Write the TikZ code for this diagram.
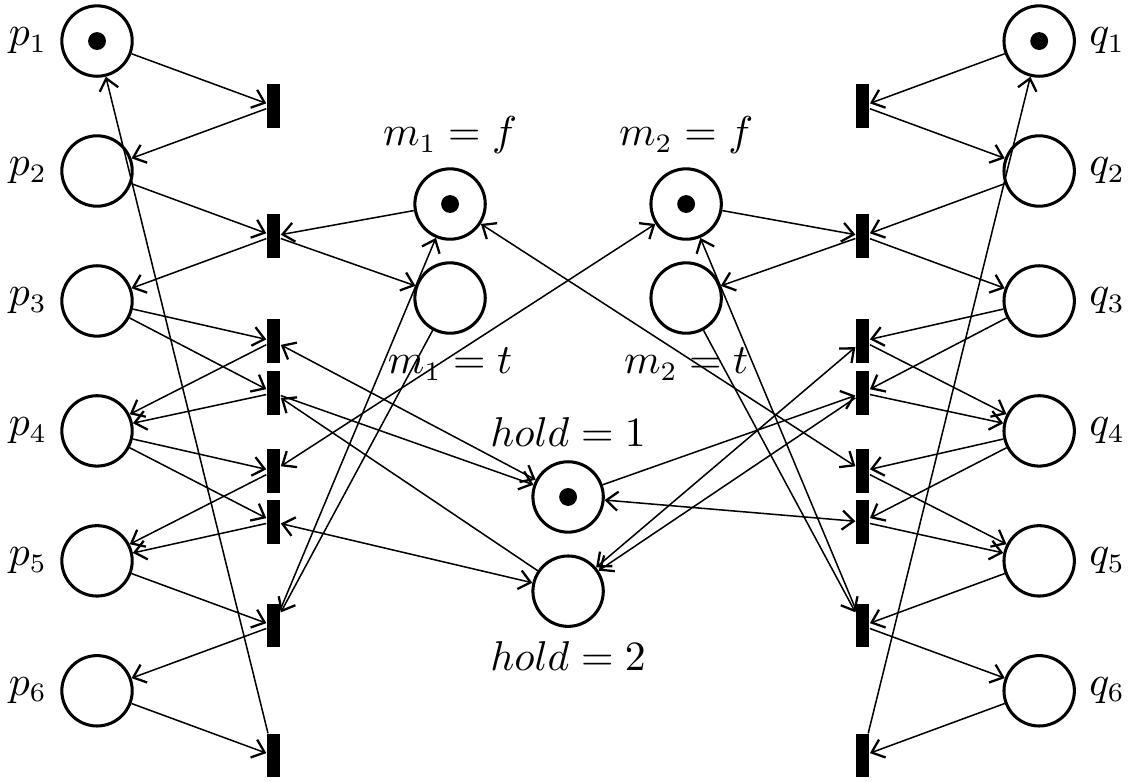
\documentclass[tikz,border=0pt]{standalone}
\usepackage{amsmath}
\usepackage{amssymb}
\usepackage{tikz}
\usetikzlibrary{arrows,arrows.meta,petri}

\begin{document}
\begin{tikzpicture}[->,>={Straight Barb[length=3pt,width=5pt,line width=0.6pt]},auto,node distance=1.2cm,
                    place node/.style={circle,draw,thick,minimum size=6.5mm,inner sep=0pt},
                    trans node/.style={rectangle,fill=black,minimum width=1.2mm,minimum height=4mm,inner sep=0pt},
                    every token/.style={circle,fill=black,inner sep=0pt,minimum size=1.65mm},
                    every label/.style={font=\fontsize{10.5}{12}\selectfont}]

  \useasboundingbox (-0.896,0.379) rectangle (9.557,-6.842);

  % process p
  \node[place node,tokens=1] (p1) [label=left:$p_1$] {};
  \node[place node] (p2) [below of=p1,label=left:$p_2$] {};
  \node[place node] (p3) [below of=p2,label=left:$p_3$] {};
  \node[place node] (p4) [below of=p3,label=left:$p_4$] {};
  \node[place node] (p5) [below of=p4,label=left:$p_5$] {};
  \node[place node] (p6) [below of=p5,label=left:$p_6$] {};

  \node[trans node] (t1) at (1.63,-0.6) {};
  \node[trans node] (t2) at (1.63,-1.8) {};
  \node[trans node] (t3) at (1.63,-2.77) {};
  \node[trans node] (t4) at (1.63,-3.25) {};
  \node[trans node] (t5) at (1.63,-3.97) {};
  \node[trans node] (t6) at (1.63,-4.44) {};
  \node[trans node] (t7) at (1.63,-5.4) {};
  \node[trans node] (t8) at (1.63,-6.6) {};

  % process q
  \node[place node,tokens=1] (q1) at (8.7,0) [label=right:$q_1$] {};
  \node[place node] (q2) [below of=q1,label=right:$q_2$] {};
  \node[place node] (q3) [below of=q2,label=right:$q_3$] {};
  \node[place node] (q4) [below of=q3,label=right:$q_4$] {};
  \node[place node] (q5) [below of=q4,label=right:$q_5$] {};
  \node[place node] (q6) [below of=q5,label=right:$q_6$] {};

  \node[trans node] (s1) at (7.07,-0.6) {};
  \node[trans node] (s2) at (7.07,-1.8) {};
  \node[trans node] (s3) at (7.07,-2.77) {};
  \node[trans node] (s4) at (7.07,-3.25) {};
  \node[trans node] (s5) at (7.07,-3.97) {};
  \node[trans node] (s6) at (7.07,-4.44) {};
  \node[trans node] (s7) at (7.07,-5.4) {};
  \node[trans node] (s8) at (7.07,-6.6) {};

  % shared variables
  \node[place node,tokens=1] (m1f) at (3.26,-1.505) [label={above:$m_1 = f$}] {};
  \node[place node] (m1t) at (3.26,-2.373) [label={below:$m_1 = t$}] {};
  \node[place node,tokens=1] (m2f) at (5.44,-1.505) [label={above:$m_2 = f$}] {};
  \node[place node] (m2t) at (5.44,-2.373) [label={below:$m_2 = t$}] {};
  \node[place node,tokens=1] (hold1) at (4.35,-4.21) [label={above:$hold = 1$}] {};
  \node[place node] (hold2) at (4.35,-5.08) [label={below:$hold = 2$}] {};

  \path
    (p1) edge (t1)
    (t1) edge (p2)
    (p2) edge (t2)
    (m1f) edge (t2)
    (t2) edge (p3)
         edge (m1t)
    (p3) edge (t3)
         edge (t4)
    (t3) edge (p4)
         edge [<->] (hold1)
    (t4) edge (p4)
         edge (hold1)
    (hold2) edge (t4)
    (p4) edge (t5)
         edge (t6)
    (t5) edge (p5)
         edge [<->] (m2f)
    (t6) edge (p5)
         edge [<->] (hold2)
    (p5) edge (t7)
    (m1t) edge (t7)
    (t7) edge (p6)
         edge (m1f)
    (p6) edge (t8)
    (t8) edge (p1);

  \path
    (q1) edge (s1)
    (s1) edge (q2)
    (q2) edge (s2)
    (m2f) edge (s2)
    (s2) edge (q3)
         edge (m2t)
    (q3) edge (s3)
         edge (s4)
    (s3) edge (q4)
         edge [<->] (hold2)
    (s4) edge (q4)
         edge (hold2)
    (hold1) edge (s4)
    (q4) edge (s5)
         edge (s6)
    (s5) edge (q5)
         edge [<->] (m1f)
    (s6) edge (q5)
         edge [<->] (hold1)
    (q5) edge (s7)
    (m2t) edge (s7)
    (s7) edge (q6)
         edge (m2f)
    (q6) edge (s8)
    (s8) edge (q1);
\end{tikzpicture}
\end{document}
